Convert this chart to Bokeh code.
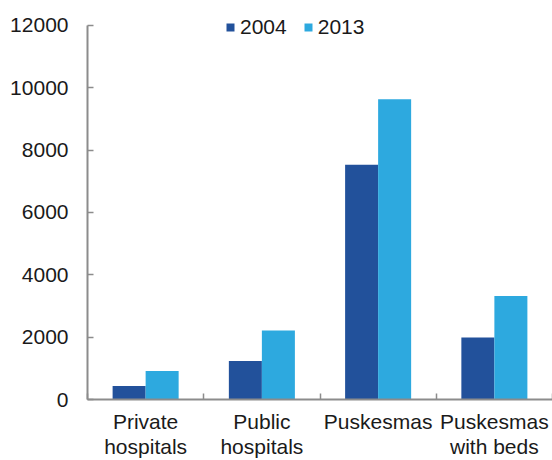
from bokeh.plotting import figure
from bokeh.models import Range1d, FixedTicker, Legend, LegendItem
from bokeh.embed import file_html
from bokeh.resources import INLINE

categories = ["Private\nhospitals", "Public\nhospitals", "Puskesmas", "Puskesmas\nwith beds"]
series_names = ["2004", "2013"]
values_2004 = [436, 1235, 7530, 1990]
values_2013 = [913, 2212, 9630, 3317]
y_ticks = [0, 2000, 4000, 6000, 8000, 10000, 12000]

colors = ["#22519B", "#2DA9DF"]
FONT = "Liberation Sans"
TXT = "#1a1a1a"
AX = "#8c8c8c"

p = figure(width=552, height=460, output_backend="svg", toolbar_location=None,
           x_range=Range1d(0, len(categories)), y_range=Range1d(0, 12480),
           min_border_left=87, min_border_right=0, min_border_top=10, min_border_bottom=58)
p.outline_line_color = None
p.xgrid.visible = False
p.ygrid.visible = False

centers = [i + 0.5 for i in range(len(categories))]
bw = 0.284
r1 = p.vbar(x=[c - bw / 2 for c in centers], top=values_2004, width=bw, bottom=0,
            fill_color=colors[0], line_color=None)
r2 = p.vbar(x=[c + bw / 2 for c in centers], top=values_2013, width=bw, bottom=0,
            fill_color=colors[1], line_color=None)

# x axis
xa = p.xaxis[0]
xa.ticker = FixedTicker(ticks=centers, minor_ticks=list(range(len(categories) + 1)))
xa.major_label_overrides = {c: lab for c, lab in zip(centers, categories)}
xa.major_tick_line_color = None
xa.major_tick_in = 0
xa.major_tick_out = 0
xa.minor_tick_line_color = AX
xa.minor_tick_in = 6
xa.minor_tick_out = 0
xa.minor_tick_line_width = 1.5
xa.axis_line_color = AX
xa.axis_line_width = 2
xa.major_label_text_font = FONT
xa.major_label_text_font_size = "21px"
xa.major_label_text_color = TXT
xa.major_label_text_line_height = 1.1
xa.major_label_standoff = 10

# y axis
ya = p.yaxis[0]
ya.ticker = FixedTicker(ticks=y_ticks, minor_ticks=[])
ya.bounds = (0, 12000)
ya.major_tick_line_color = AX
ya.major_tick_in = 6
ya.major_tick_out = 0
ya.major_tick_line_width = 1.5
ya.axis_line_color = AX
ya.axis_line_width = 2
ya.major_label_text_font = FONT
ya.major_label_text_font_size = "21px"
ya.major_label_text_color = TXT
ya.major_label_standoff = 19

legend = Legend(items=[LegendItem(label=series_names[0], renderers=[r1]),
                       LegendItem(label=series_names[1], renderers=[r2])],
                orientation="horizontal", location=(138, 360),
                padding=0, margin=0, spacing=16, label_standoff=5,
                glyph_width=10, glyph_height=10, label_height=21,
                label_text_font=FONT, label_text_font_size="21px",
                label_text_color=TXT, border_line_color=None,
                background_fill_alpha=0)
p.add_layout(legend)

open("out.html", "w").write(file_html(p, INLINE))
